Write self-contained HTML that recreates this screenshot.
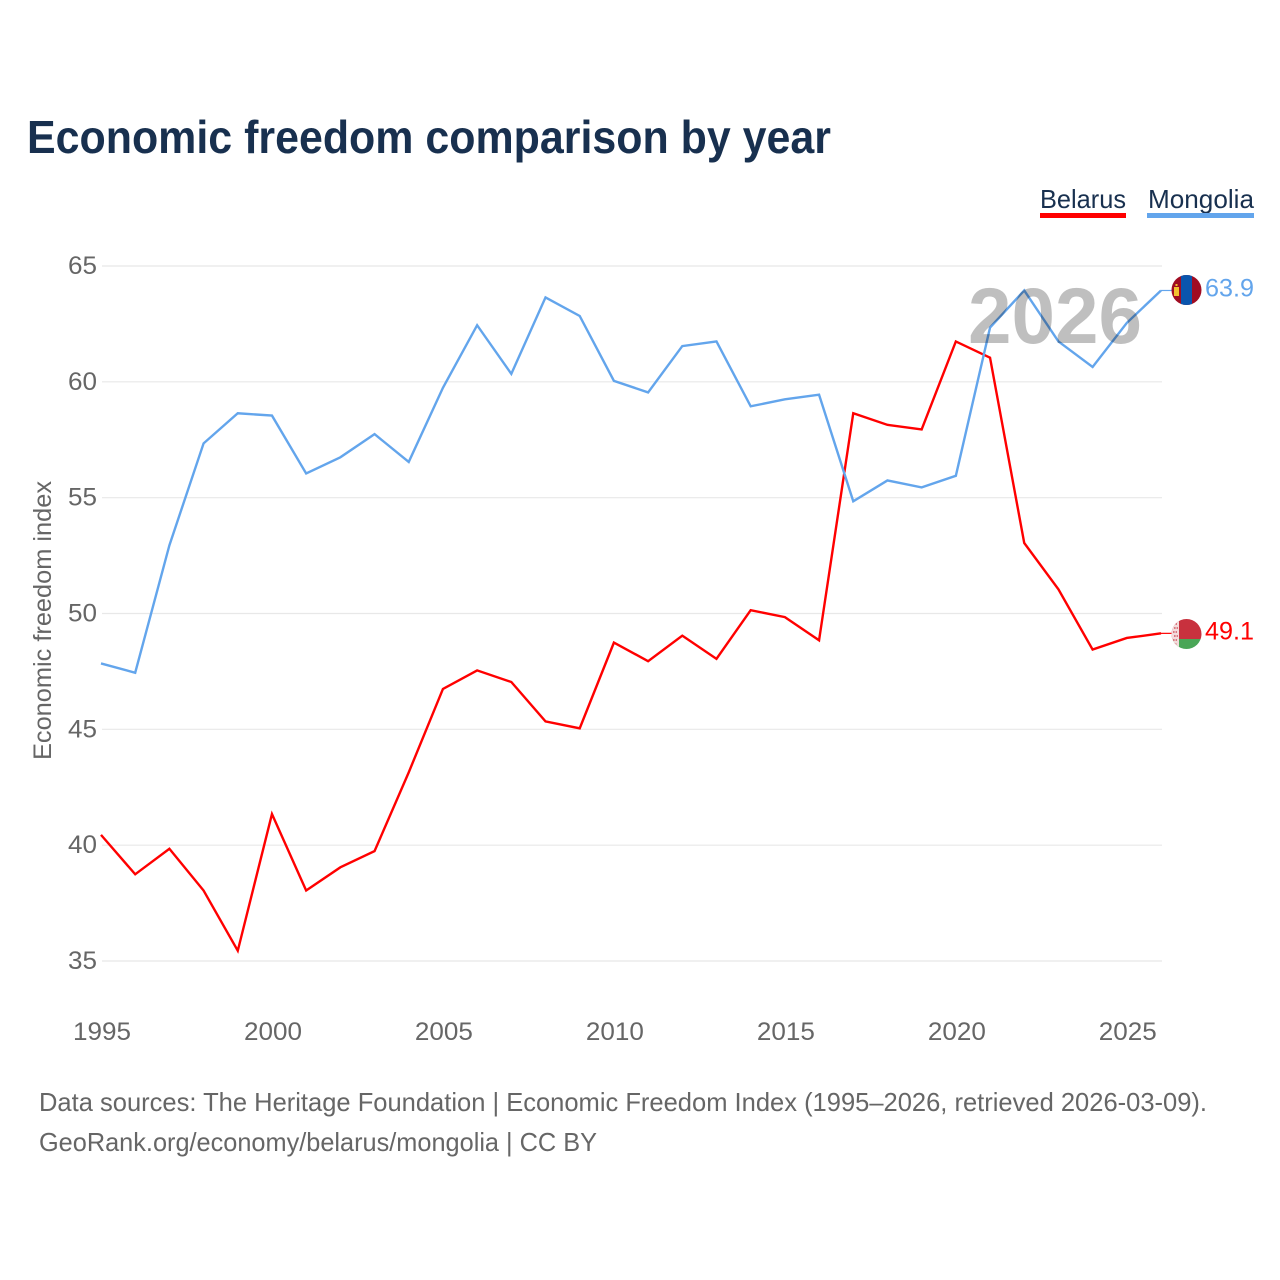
<!DOCTYPE html>
<html lang="en">
<head>
<meta charset="utf-8">
<title>Economic freedom comparison by year</title>
<style>
html,body{margin:0;padding:0;background:#fff}
svg{display:block}
text{font-family:"Liberation Sans",sans-serif}
</style>
</head>
<body>
<svg id="chart" xmlns="http://www.w3.org/2000/svg" width="1280" height="1280" viewBox="0 0 1280 1280">
  <rect width="1280" height="1280" fill="#fff"/>
  <text x="27" y="153" font-size="46" font-weight="700" fill="#18304f" textLength="804" lengthAdjust="spacingAndGlyphs">Economic freedom comparison by year</text>

  <g>
    <g>
      <text x="1040" y="208" font-size="26" fill="#18304f" textLength="86" lengthAdjust="spacingAndGlyphs">Belarus</text>
      <rect x="1040" y="213" width="86" height="5" fill="#ff0000"/>
    </g>
    <g>
      <text x="1148" y="208" font-size="26" fill="#18304f" textLength="106" lengthAdjust="spacingAndGlyphs">Mongolia</text>
      <rect x="1147" y="213" width="107" height="5" fill="#63a5ec"/>
    </g>
  </g>

  <g id="grid"></g>
  <g id="yticks"></g>
  <g id="xticks"></g>
  <text transform="translate(51,760) rotate(-90)" font-size="25" fill="#666" textLength="279" lengthAdjust="spacingAndGlyphs">Economic freedom index</text>

  <g id="series" transform="translate(-1,-1)"></g>

  <text id="year-watermark" x="968" y="343" font-size="79" font-weight="700" fill="#000" fill-opacity="0.25" textLength="174" lengthAdjust="spacingAndGlyphs">2026</text>

  <g id="end-labels"></g>

  <defs>
    <clipPath id="clip-mn"><circle cx="1186.5" cy="290" r="15"/></clipPath>
    <clipPath id="clip-by"><circle cx="1186.5" cy="634" r="15"/></clipPath>
  </defs>
  <g clip-path="url(#clip-mn)">
    <rect x="1171" y="275" width="31" height="30" fill="#a00c22"/>
    <rect x="1181" y="275" width="11" height="30" fill="#0a55ad"/>
    <rect x="1174" y="287" width="5" height="9" fill="#f2c230"/>
    <rect x="1175.5" y="284" width="2" height="2" fill="#f2c230"/>
  </g>
  <g clip-path="url(#clip-by)">
    <rect x="1171" y="619" width="31" height="20" fill="#c8313e"/>
    <rect x="1171" y="639" width="31" height="10" fill="#4aa657"/>
    <rect x="1171" y="619" width="8" height="30" fill="#f3dcdc"/>
    <path d="M1173 624h4M1174 628h4M1173 632h4M1174 636h4M1173 640h4M1174 644h3" stroke="#cf5a64" stroke-width="1.6" stroke-dasharray="1.6 1" fill="none"/>
  </g>

  <text x="39" y="1111" font-size="26" fill="#666" textLength="1168" lengthAdjust="spacingAndGlyphs">Data sources: The Heritage Foundation | Economic Freedom Index (1995–2026, retrieved 2026-03-09).</text>
  <text x="39" y="1151" font-size="26" fill="#666" textLength="558" lengthAdjust="spacingAndGlyphs">GeoRank.org/economy/belarus/mongolia | CC BY</text>
</svg>
<script>
const years = [1995,1996,1997,1998,1999,2000,2001,2002,2003,2004,2005,2006,2007,2008,2009,2010,2011,2012,2013,2014,2015,2016,2017,2018,2019,2020,2021,2022,2023,2024,2025,2026];
const belarusValues = [40.4,38.7,39.8,38.0,35.4,41.3,38.0,39.0,39.7,43.1,46.7,47.5,47.0,45.3,45.0,48.7,47.9,49.0,48.0,50.1,49.8,48.8,58.6,58.1,57.9,61.7,61.0,53.0,51.0,48.4,48.9,49.1];
const mongoliaValues = [47.8,47.4,52.9,57.3,58.6,58.5,56.0,56.7,57.7,56.5,59.7,62.4,60.3,63.6,62.8,60.0,59.5,61.5,61.7,58.9,59.2,59.4,54.8,55.7,55.4,55.9,62.3,63.9,61.7,60.6,62.5,63.9];
const yTickLabels = [35,40,45,50,55,60,65];
const xTickLabels = [1995,2000,2005,2010,2015,2020,2025];

const NS = 'http://www.w3.org/2000/svg';
const xScale = function (year) { return 102 + (year - 1995) * (1162 - 102) / 31; };
const yScale = function (v) { return 961 - (v - 35) * (961 - 266) / 30; };
function make(tag, attrs, parent) {
  const el = document.createElementNS(NS, tag);
  Object.keys(attrs).forEach(function (k) { el.setAttribute(k, attrs[k]); });
  parent.appendChild(el);
  return el;
}
const grid = document.getElementById('grid');
const yticks = document.getElementById('yticks');
const xticks = document.getElementById('xticks');
const seriesGroup = document.getElementById('series');
const endLabels = document.getElementById('end-labels');

yTickLabels.forEach(function (t) {
  const line = make('line', {x1: 102, x2: 1162, y1: yScale(t), y2: yScale(t), stroke: '#e8e8e8', 'stroke-width': 1.2}, grid);
  
  
  const label = make('text', {x: 97, y: yScale(t) + 8, 'text-anchor': 'end', 'font-size': 25, fill: '#666', textLength: 29, lengthAdjust: 'spacingAndGlyphs'}, yticks);
  
  
  label.textContent = t;
});
xTickLabels.forEach(function (t) {
  const label = make('text', {x: xScale(t), y: 1040, 'text-anchor': 'middle', 'font-size': 25, fill: '#666', textLength: 58, lengthAdjust: 'spacingAndGlyphs'}, xticks);
  
  
  label.textContent = t;
});
function drawSeries(name, values, color) {
  const d = values.map(function (v, i) {
    return (i ? 'L' : 'M') + xScale(years[i]).toFixed(2) + ' ' + yScale(v).toFixed(2);
  }).join(' ');
  const path = make('path', {d: d, fill: 'none', stroke: color, 'stroke-width': 2.4, 'stroke-linejoin': 'miter'}, seriesGroup);
  
  
  const last = values[values.length - 1];
  const y = yScale(last);
  const conn = make('line', {x1: xScale(years[years.length - 1]), x2: 1173, y1: y, y2: y, stroke: color, 'stroke-width': 1.2}, seriesGroup);
  
  
  const label = make('text', {x: 1205, y: y + 5, 'font-size': 25, fill: color, textLength: 49, lengthAdjust: 'spacingAndGlyphs'}, endLabels);
  
  
  label.textContent = last.toFixed(1);
}
drawSeries('belarus', belarusValues, '#ff0000');
drawSeries('mongolia', mongoliaValues, '#63a5ec');
</script>
</body>
</html>
